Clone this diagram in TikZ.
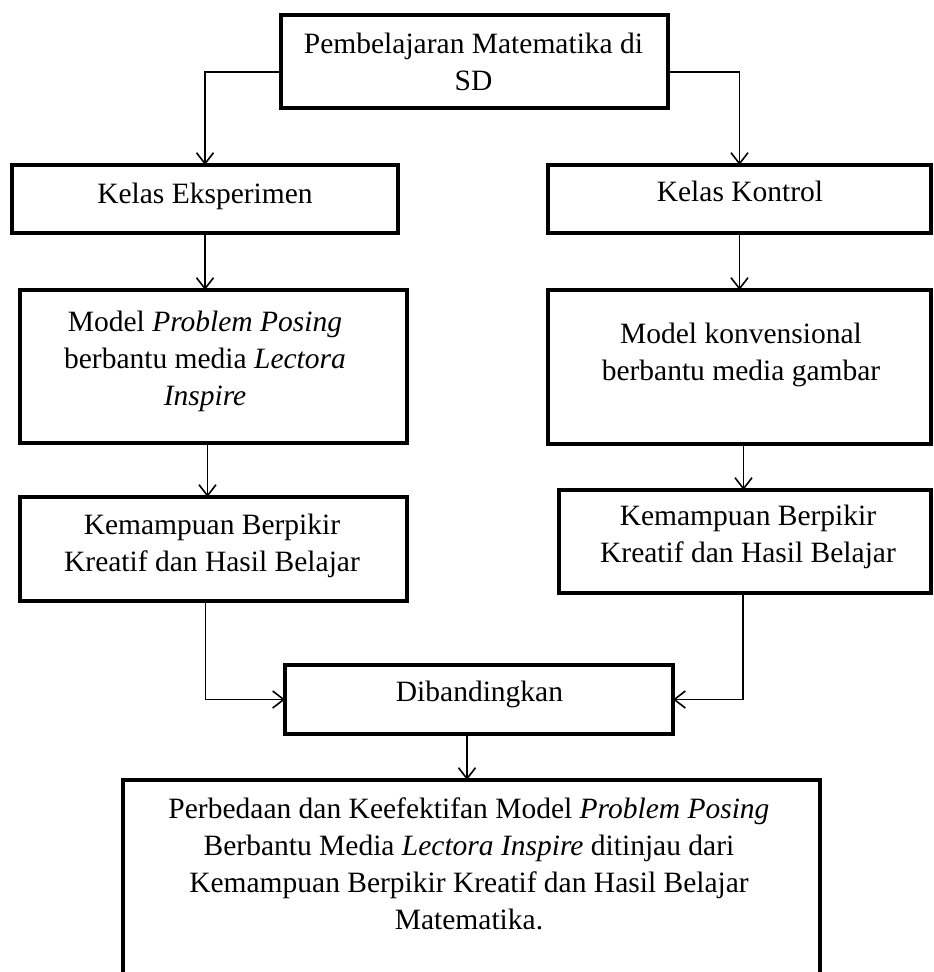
\documentclass[tikz,border=0pt]{standalone}
\usepackage{fontspec}
\setmainfont{Liberation Serif}
\usetikzlibrary{arrows.meta}
\begin{document}
\begin{tikzpicture}[x=1pt,y=-1pt,
  box/.style={draw, line width=3.5pt, inner sep=0pt, outer sep=0pt},
  txt/.style={align=center, font=\fontsize{29.5}{37}\selectfont, inner sep=0pt},
  arr/.style={line width=1.6pt, -{Straight Barb[length=11pt,width=17pt,line width=1.6pt]}}]
\useasboundingbox (0,0) rectangle (934,972);
\clip (0,0) rectangle (934,972);
\fill[white] (0,0) rectangle (934,972);
% boxes
\node[box, minimum width=387pt, minimum height=93pt] (top) at (474.5,61.5) {};
\node[box, minimum width=386pt, minimum height=68pt] (KE) at (205,199) {};
\node[box, minimum width=383pt, minimum height=68pt] (KK) at (739.5,199) {};
\node[box, minimum width=387pt, minimum height=153pt] (MP) at (213.5,366.5) {};
\node[box, minimum width=383pt, minimum height=154pt] (MK) at (739.5,367) {};
\node[box, minimum width=387pt, minimum height=104pt] (KL) at (213.5,549) {};
\node[box, minimum width=372pt, minimum height=103pt] (KR) at (745,541.5) {};
\node[box, minimum width=388pt, minimum height=69pt] (D) at (479,699.5) {};
\node[box, minimum width=697pt, minimum height=220pt] (B) at (471.5,890) {};
% texts
\node[txt] (top-t) at (473.5,65) {\strut Pembelajaran Matematika di\\\strut SD};
\node[txt] (KE-t) at (205,196) {\strut Kelas Eksperimen};
\node[txt] (KK-t) at (740,194) {\strut Kelas Kontrol};
\node[txt] (MP-t) at (205,361) {\strut Model \textit{Problem Posing}\\\strut berbantu media \textit{Lectora}\\\strut \textit{Inspire}};
\node[txt] (MK-t) at (741,355) {\strut Model konvensional\\\strut berbantu media gambar};
\node[txt] (KL-t) at (212,546) {\strut Kemampuan Berpikir\\\strut Kreatif dan Hasil Belajar};
\node[txt] (KR-t) at (748,537) {\strut Kemampuan Berpikir\\\strut Kreatif dan Hasil Belajar};
\node[txt] (D-t) at (479.5,694) {\strut Dibandingkan};
\node[txt] (B-t) at (469,867) {\strut Perbedaan dan Keefektifan Model \textit{Problem Posing}\\\strut Berbantu Media \textit{Lectora Inspire} ditinjau dari\\\strut Kemampuan Berpikir Kreatif dan Hasil Belajar\\\strut Matematika.};
% connectors
\draw[arr] ([yshift=-10.5pt]top.west) -| (KE.north);
\draw[arr] ([yshift=-10.5pt]top.east) -| (KK.north);
\draw[arr] (KE.south) -- (KE.south |- MP.north);
\draw[arr] (KK.south) -- (KK.south |- MK.north);
\draw[arr] ([xshift=-6pt]MP.south) -- ([xshift=-6pt]MP.south |- KL.north);
\draw[arr] ([xshift=4pt]MK.south) -- ([xshift=4pt]MK.south |- KR.north);
\draw[arr] ([xshift=-8pt]KL.south) |- (D.west);
\draw[arr] ([xshift=-2pt]KR.south) |- (D.east);
\draw[arr] ([xshift=-12pt]D.south) -- ([xshift=-12pt]D.south |- B.north);
\end{tikzpicture}
\end{document}
